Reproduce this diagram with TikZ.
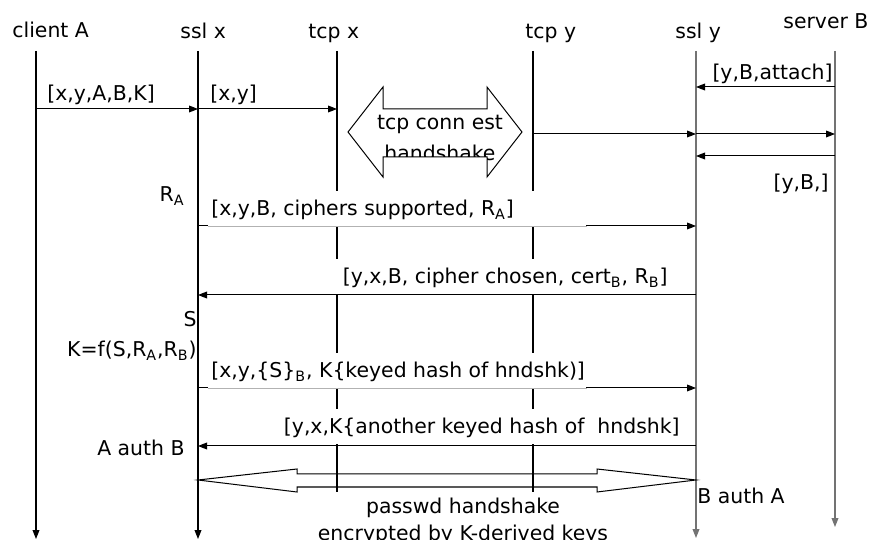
\documentclass[tikz,border=0pt]{standalone}
\usepackage{fontspec}
\setmainfont{DejaVu Sans}
\usetikzlibrary{arrows.meta}

\tikzset{
  tip/.style={-{Triangle[length=4.5pt,width=3.4pt]}},
  life/.style={line width=0.55pt, tip},
  msg/.style={line width=0.5pt, tip},
  txt/.style={inner sep=0pt},
  lbl/.style={fill=white, inner xsep=4pt, inner ysep=0pt, text height=12.5pt, text depth=5pt},
  widelbl/.style={lbl, inner xsep=1.5pt},
}

\begin{document}
\begin{tikzpicture}[x=0.5pt,y=-0.5pt,font=\fontsize{10.2}{12.2}\selectfont]
        \clip (0,0) rectangle (880,540);

        % heads
        \node[txt, anchor=base west] (hA) at (12,38) {client A};
        \node[txt, anchor=base west] (hSX) at (180,39) {ssl x};
        \node[txt, anchor=base west] (hTX) at (308,39) {tcp x};
        \node[txt, anchor=base west] (hTY) at (525,39) {tcp y};
        \node[txt, anchor=base west] (hSY) at (675,39) {ssl y};
        \node[txt, anchor=base west] (hB) at (783,29) {server B};

        % lifelines
        \coordinate (cliA) at (36,51);   \coordinate (cliAe) at (36,539);
        \coordinate (sslX) at (198,51);  \coordinate (sslXe) at (198,539);
        \coordinate (tcpX) at (337,51);  \coordinate (tcpXe) at (337,492);
        \coordinate (tcpY) at (533,51);  \coordinate (tcpYe) at (533,492);
        \coordinate (sslY) at (696,51);  \coordinate (sslYe) at (696,538);
        \coordinate (srvB) at (835,51);  \coordinate (srvBe) at (835,527);

        \draw[life] (cliA) -- (cliAe);
        \draw[life] (sslX) -- (sslXe);
        \draw[line width=0.55pt] (tcpX) -- (tcpXe);
        \draw[line width=0.55pt] (tcpY) -- (tcpYe);
        \draw[life, black!55] (sslY) -- (sslYe);
        \draw[life, black!55] (srvB) -- (srvBe);

        % message levels
        \coordinate (m1) at (0,109);
        \coordinate (m2) at (0,87);
        \coordinate (m3) at (0,134);
        \coordinate (m4) at (0,156);
        \coordinate (m5) at (0,226);
        \coordinate (m6) at (0,295);
        \coordinate (m7) at (0,388);
        \coordinate (m8) at (0,446);

        \draw[msg] (cliA |- m1) -- (sslX |- m1);
        \draw[msg] (sslX |- m1) -- (tcpX |- m1);
        \draw[msg] (srvB |- m2) -- (sslY |- m2);
        \draw[msg] (tcpY |- m3) -- (sslY |- m3);
        \draw[msg] (sslY |- m3) -- (srvB |- m3);
        \draw[msg] (srvB |- m4) -- (sslY |- m4);
        \draw[msg] (sslX |- m5) -- (sslY |- m5);
        \draw[msg] (sslY |- m6) -- (sslX |- m6);
        \draw[msg] (sslX |- m7) -- (sslY |- m7);
        \draw[msg] (sslY |- m8) -- (sslX |- m8);

        % tcp handshake
        \def\tcpshake{(348,132) -- (383,87) -- (383,109) -- (487,109) -- (487,87) -- (522,132)
          -- (487,177) -- (487,157) -- (383,157) -- (383,177) -- cycle}
        \draw[fill=white, line width=0.5pt] \tcpshake;
        \begin{scope}
          \clip \tcpshake;
          \node[txt, anchor=base] (hs1) at (440,130) {tcp conn est};
          \node[txt, anchor=base] (hs2) at (440,161) {handshake};
        \end{scope}

        % labels
        \node[txt, anchor=base west] (l1) at (47,101) {[x,y,A,B,K]};
        \node[txt, anchor=base west] (l2) at (210,101) {[x,y]};
        \node[txt, anchor=base east] (l3) at (833,80) {[y,B,attach]};
        \node[txt, anchor=base east] (l4) at (829,190) {[y,B,]};
        \node[txt, anchor=base east] (ra) at (185,202) {R\textsubscript{A}};
        \node[widelbl, anchor=base west] (l5) at (208,216)
          {\makebox[186pt][l]{[x,y,B, ciphers supported, R\textsubscript{A}]}};
        \draw[black!30, line width=0.5pt] (l5.south west) -- (l5.south east);
        \node[lbl, anchor=base east] (l6) at (676,284)
          {[y,x,B, cipher chosen, cert\textsubscript{B}, R\textsubscript{B}]};
        \node[txt, anchor=base east] (s) at (197,327) {S};
        \node[txt, anchor=base east] (kf) at (197,357) {K=f(S,R\textsubscript{A},R\textsubscript{B})};
        \node[widelbl, anchor=base west] (l7) at (208,378)
          {\makebox[186pt][l]{[x,y,\{S\}\textsubscript{B}, K\{keyed hash of hndshk)]}};
        \draw[black!30, line width=0.5pt] (l7.south west) -- (l7.south east);
        \node[lbl, anchor=base east] (l8) at (688,434)
          {[y,x,K\{another keyed hash of\ \ hndshk]};
        \node[txt, anchor=base east] (ab) at (185,456) {A auth B};

        % passwd handshake
        \draw[line width=0.5pt] (198,480) -- (297,469) -- (297,474) -- (597,474) -- (597,469) -- (696,480)
          -- (597,492) -- (597,487) -- (297,487) -- (297,492) -- cycle;
        \node[txt, anchor=base] (pw1) at (463,513) {passwd handshake};
        \node[txt, anchor=base] (pw2) at (463,540) {encrypted by K-derived keys};
        \node[txt, anchor=base west] (ba) at (697,503) {B auth A};
\end{tikzpicture}
\end{document}
